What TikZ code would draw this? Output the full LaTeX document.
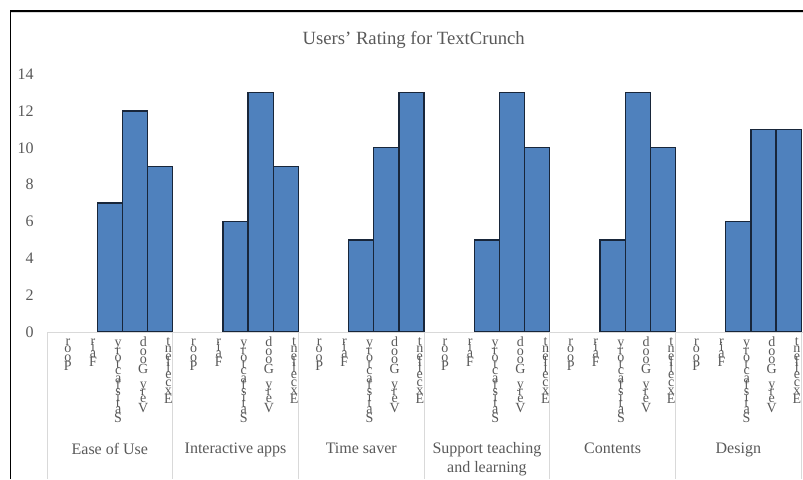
\documentclass[tikz,border=0pt]{standalone}
\usepackage{fontspec}
\setmainfont{Liberation Serif}
\usepackage{graphicx}

\definecolor{barblue}{HTML}{4F81BD}
\definecolor{baredge}{HTML}{18263A}
\definecolor{axisgray}{HTML}{D9D9D9}
\definecolor{labelgray}{HTML}{595959}

% one upright letter in a slot a little wider than the letter
\newcommand\stackchar[1]{\sbox0{#1}%
  \hbox to \dimexpr\wd0+1.1pt\relax{\hss\rotatebox{-90}{\smash{\raisebox{-0.3em}{\makebox[0pt]{#1}}}}\hss}}
\makeatletter
\def\stackword#1{\stack@loop#1\relax}
\def\stack@loop#1{\ifx\relax#1\else\stackchar{#1}\expandafter\stack@loop\fi}
\makeatother

\begin{document}
\begin{tikzpicture}[x=0.75pt,y=-0.75pt,
    bar/.style={fill=barblue,draw=baredge,line width=1pt},
    axisline/.style={draw=axisgray,line width=0.75pt},
    ticktext/.style={anchor=east,inner sep=0pt,text=labelgray,font=\fontsize{12}{14}\selectfont},
    titletext/.style={anchor=base,inner sep=0pt,text=labelgray,font=\fontsize{14}{17}\selectfont},
    catlabel/.style={anchor=north,inner sep=0pt,align=center,text=labelgray,font=\fontsize{12}{14}\selectfont},
    stacklabel/.style={rotate=90,anchor=east,inner sep=0pt,text=labelgray,font=\fontsize{10.5}{12}\selectfont}]
    \useasboundingbox (0,0) rectangle (803,479);
    % frame of the chart
    \draw[line width=0.8pt] (10.5,479) -- (10.5,11) -- (803,11);
    \draw[axisgray,line width=1pt] (11,12.8) -- (803,12.8);
    \node[titletext] (title) at (413.7,44) {Users’ Rating for TextCrunch};
    % value axis
    \foreach \v in {0,2,...,14}
        \node[ticktext] (tick-\v) at (34,332-18.42*\v) {\v};
    % category axis
    \draw[axisline] (47,332.5) -- (803,332.5);
    \foreach \i in {0,...,6}
        \draw[axisline] (47+125.7*\i,332.5) -- (47+125.7*\i,479);
    % bars: Satisfactory, Very Good, Excellent (Poor and Fair are 0)
    \foreach \s/\g/\e [count=\c] in {7/12/9,6/13/9,5/10/13,5/13/10,5/13/10,6/11/11} {
        \pgfmathsetmacro\xl{47+125.7*(\c-1)}
        \draw[bar] (\xl+50.28,331.5) rectangle (\xl+75.42,332-18.42*\s);
        \draw[bar] (\xl+75.42,331.5) rectangle (\xl+100.56,332-18.42*\g);
        \draw[bar] (\xl+100.56,331.5) rectangle (\xl+125.7,332-18.42*\e);
        \foreach \w [count=\k] in {Poor,Fair,Satisfactory,Very~Good,Excellent}
            \node[stacklabel] (rate-\c-\k) at (\xl+25.14*\k-4.3,338)
                {\expandafter\stackword\expandafter{\w}};
    }
    \foreach \t [count=\c] in {Ease of Use,Interactive apps,Time saver,
            {Support teaching\\and learning},Contents,Design}
        \node[catlabel] (cat-\c) at (47+125.7*\c-62.85,442.5) {\t};
\end{tikzpicture}
\end{document}
